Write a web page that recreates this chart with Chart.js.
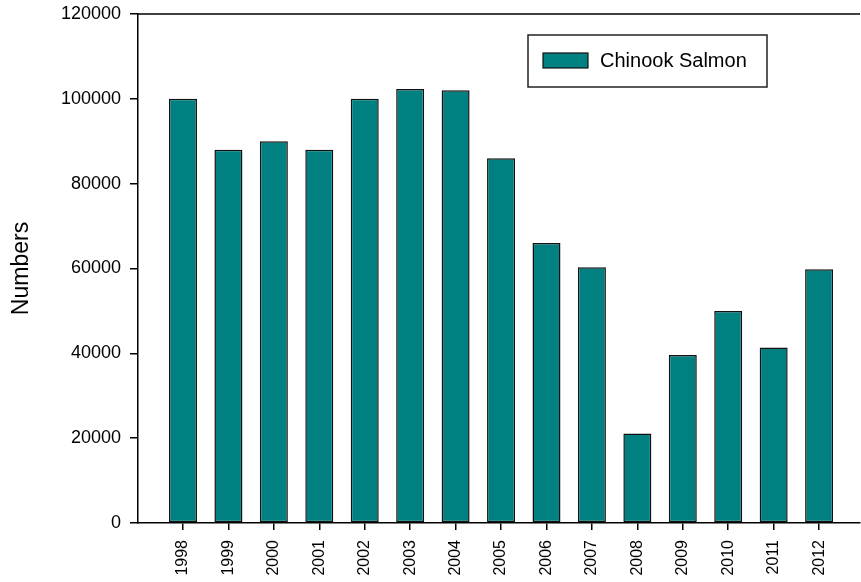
<!DOCTYPE html>
<html>
<head>
<meta charset="utf-8">
<script src="https://cdn.jsdelivr.net/npm/chart.js@4.4.1/dist/chart.umd.min.js"></script>
<style>
  html, body { margin: 0; padding: 0; background: #fff; }
</style>
</head>
<body>
<canvas id="salmonChart" width="861" height="582"></canvas>
<script>
// data
const years = ['1998', '1999', '2000', '2001', '2002', '2003', '2004', '2005', '2006', '2007', '2008', '2009', '2010', '2011', '2012'];
const chinook = [100000, 88000, 90000, 88000, 100000, 102300, 102000, 86000, 66000, 60300, 21100, 39600, 50000, 41400, 59800];
const yTicks = [0, 20000, 40000, 60000, 80000, 100000, 120000];
const seriesName = 'Chinook Salmon';

const TEAL = '#008080';
const FONT = "'Liberation Sans', Arial, sans-serif";

// top frame line + boxed legend
const framePlugin = {
    id: 'frame',
    afterDraw(chart) {
        const { ctx, chartArea } = chart;
        ctx.save();
        ctx.strokeStyle = '#000';
        ctx.lineWidth = 1.5;
        ctx.beginPath();
        ctx.moveTo(chartArea.left, chartArea.top);
        ctx.lineTo(chartArea.right, chartArea.top);
        ctx.stroke();

        // legend box
        ctx.lineWidth = 1.5;
        ctx.strokeStyle = '#222';
        ctx.strokeRect(528, 35, 239, 52);
        const ds = chart.data.datasets[0];
        ctx.fillStyle = ds.backgroundColor;
        ctx.fillRect(543, 53, 45, 15);
        ctx.lineWidth = 1.2;
        ctx.strokeStyle = '#111';
        ctx.strokeRect(543, 53, 45, 15);
        ctx.fillStyle = '#000';
        ctx.font = '20px ' + FONT;
        ctx.textBaseline = 'middle';
        ctx.fillText(ds.label, 600, 61);
        ctx.restore();
    }
};

const ctx = document.getElementById('salmonChart').getContext('2d');
new Chart(ctx, {
    type: 'bar',
    data: {
        datasets: [{
            label: seriesName,
            data: years.map((y, i) => ({ x: Number(y), y: chinook[i] })),
            backgroundColor: TEAL,
            borderColor: '#111',
            borderWidth: 1.5,
            borderSkipped: false,
            barPercentage: 0.616,
            categoryPercentage: 1
        }]
    },
    options: {
        responsive: false,
        animation: false,
        layout: { padding: { top: 14, right: 1, left: 0, bottom: 0 } },
        plugins: { legend: { display: false }, tooltip: { enabled: false } },
        scales: {
            x: {
                type: 'linear',
                offset: false,
                min: 1997.01,
                max: 2012.9,
                afterBuildTicks: (scale) => { scale.ticks = years.map(y => ({ value: Number(y) })); },
                afterFit: (scale) => { scale.height = 59; scale.paddingLeft = 0; scale.paddingRight = 0; },
                grid: { display: true, drawOnChartArea: false, offset: false, color: '#000', tickColor: '#000', tickLength: 7, lineWidth: 1.5 },
                border: { display: true, color: '#000', width: 1.5 },
                ticks: {
                    autoSkip: false,
                    minRotation: 90,
                    maxRotation: 90,
                    padding: 10,
                    color: '#000',
                    font: { family: FONT, size: 16 },
                    callback: (v) => years[v - Number(years[0])]
                }
            },
            y: {
                min: 0,
                max: 120000,
                afterBuildTicks: (scale) => { scale.ticks = yTicks.map(v => ({ value: v })); },
                afterFit: (scale) => { scale.width = 138; scale.paddingTop = 0; scale.paddingBottom = 0; },
                grid: { display: true, drawOnChartArea: false, color: '#000', tickColor: '#000', tickLength: 8, lineWidth: 1.5 },
                border: { display: true, color: '#000', width: 1.5 },
                ticks: {
                    padding: 9,
                    color: '#000',
                    font: { family: FONT, size: 18 },
                    callback: (v) => String(v)
                },
                title: {
                    display: true,
                    text: 'Numbers',
                    color: '#000',
                    padding: { top: 8, bottom: 0 },
                    font: { family: FONT, size: 23 }
                }
            }
        }
    },
    plugins: [framePlugin]
});
</script>
</body>
</html>
